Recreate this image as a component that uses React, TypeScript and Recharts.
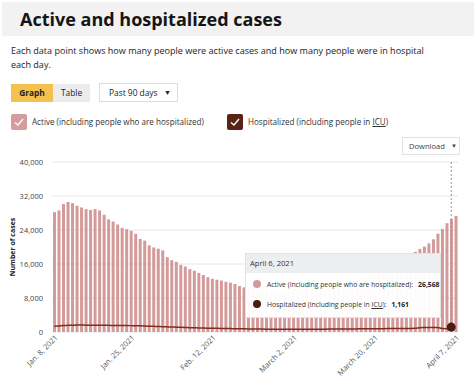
import { ComposedChart, Bar, Line, XAxis, YAxis, CartesianGrid, Tooltip } from "recharts";

const monthNames = ["Jan.", "Feb.", "March", "April"];

// 90 days, Jan 8 – April 7, 2021
const dates: string[] = [];
for (let i = 0; i < 90; i++) {
  const d = new Date(2021, 0, 8 + i);
  dates.push(`${monthNames[d.getMonth()]} ${d.getDate()}, ${d.getFullYear()}`);
}

const activeCases = [
  28200, 28600, 30100, 30600, 30300, 29700, 29300, 28900, 28700, 28900,
  28600, 27600, 26500, 26000, 25300, 24500, 24200, 23800, 23100, 21900,
  21500, 20400, 19900, 19600, 19200, 17600, 16900, 16500, 15800, 15400,
  14800, 14400, 13900, 13400, 12900, 12500, 12300, 12100, 11800, 11600,
  11300, 10800, 10500, 10400, 10200, 10050, 9900, 9820, 9700, 9740,
  9800, 9930, 10000, 10020, 10150, 10200, 10310, 10380, 10520, 10700,
  10780, 10900, 11050, 11200, 11380, 11620, 11900, 12150, 12500, 12880,
  13300, 13700, 14100, 14550, 14900, 15400, 15950, 16600, 17300, 18050,
  18850, 19550, 20100, 20850, 21800, 23150, 24250, 25600, 26568, 27300,
];

const hospitalized = [
  1380, 1430, 1510, 1560, 1600, 1620, 1640, 1615, 1600, 1590,
  1585, 1570, 1560, 1555, 1540, 1530, 1515, 1500, 1470, 1455,
  1420, 1380, 1330, 1300, 1250, 1220, 1175, 1140, 1100, 1060,
  1015, 990, 960, 925, 900, 880, 855, 840, 815, 800,
  775, 760, 745, 720, 700, 695, 680, 670, 665, 660,
  655, 650, 648, 652, 645, 650, 660, 662, 658, 670,
  676, 684, 690, 700, 698, 712, 720, 731, 740, 752,
  760, 770, 783, 790, 800, 812, 818, 832, 840, 850,
  865, 1000, 1045, 1060, 1058, 1050, 805, 790, 1161, null,
];

const xTicks = ["Jan. 8, 2021", "Jan. 25, 2021", "Feb. 12, 2021", "March 2, 2021", "March 20, 2021", "April 7, 2021"];
const yTicks = [0, 8000, 16000, 24000, 32000, 40000];

const chartData = dates.map((date, i) => ({
  date,
  active: activeCases[i],
  hospitalized: hospitalized[i],
}));

const PINK = "#d39a99";
const BROWN = "#7d2c1d";
const DARK = "#4a1d12";

function XTick({ x, y, payload }: any) {
  return (
    <g transform={`translate(${x + 2},${y})`}>
      <text x={0} y={0} dy={3} textAnchor="end" transform="rotate(-45)" fontSize={7.5} fill="#555" fontFamily='"Open Sans", sans-serif'>
        {payload.value}
      </text>
    </g>
  );
}

function TipBox({ payload, label }: any) {
  if (!payload || !payload.length) return null;
  const act = payload.find((p: any) => p.dataKey === "active");
  const hos = payload.find((p: any) => p.dataKey === "hospitalized");
  const row = { display: "flex", alignItems: "center", height: 20, paddingLeft: 7, fontSize: 6.8, color: "#333", whiteSpace: "nowrap" } as const;
  const dot = (c: string) => ({ width: 8, height: 8, borderRadius: 4, background: c, marginRight: 6, flex: "none" });
  return (
    <div style={{ width: 196, height: 65, background: "rgba(255,255,255,0.96)", border: "1px solid #e3e3e3", boxSizing: "border-box", fontFamily: '"Open Sans", sans-serif' }}>
      <div style={{ height: 19, background: "#eceef0", fontSize: 7.6, lineHeight: "19px", paddingLeft: 4, color: "#333" }}>{label}</div>
      <div style={{ ...row, marginTop: 1 }}>
        <span style={dot("#d39a9b")} />
        <span>Active (including people who are hospitalized):</span>
        <b style={{ marginLeft: 5, color: "#222" }}>{act ? act.value.toLocaleString("en-US") : ""}</b>
      </div>
      <div style={row}>
        <span style={dot(DARK)} />
        <span>
          Hospitalized (including people in <span style={{ textDecoration: "underline" }}>ICU</span>):
        </span>
        <b style={{ marginLeft: 5, color: "#222" }}>{hos ? hos.value.toLocaleString("en-US") : ""}</b>
      </div>
    </div>
  );
}

function Check({ color }: { color: string }) {
  return (
    <svg width={16} height={16} style={{ display: "block" }}>
      <rect x={0} y={0} width={16} height={16} rx={2} fill={color} />
      <path d="M4 8.5 L7 11 L12 5" stroke="#fff" strokeWidth={1.3} fill="none" />
    </svg>
  );
}

export default function App() {
  return (
    <div style={{ position: "absolute", left: 0, top: 0, width: 474, height: 381, overflow: "hidden", background: "#fff", fontFamily: '"Open Sans", sans-serif', color: "#222" }}>
      <div style={{ position: "absolute", left: 2, top: 2, width: 472, height: 34, background: "#f2f2f2" }} />
      <div style={{ position: "absolute", left: 20, top: 7, fontSize: 18, lineHeight: "24px", fontWeight: 700, fontFamily: '"Open Sans", sans-serif', color: "#151515" }}>
        Active and hospitalized cases
      </div>
      <div style={{ position: "absolute", left: 11, top: 44, width: 434, fontSize: 9.05, lineHeight: "14px", color: "#222" }}>
        Each data point shows how many people were active cases and how many people were in hospital each day.
      </div>

      <div style={{ position: "absolute", left: 11, top: 84, width: 42, height: 18, background: "#f5c14e", fontSize: 8.4, fontWeight: 700, lineHeight: "18px", textAlign: "center" }}>Graph</div>
      <div style={{ position: "absolute", left: 53, top: 84, width: 37, height: 18, background: "#ececec", fontSize: 8.4, lineHeight: "18px", textAlign: "center" }}>Table</div>
      <div style={{ position: "absolute", left: 99, top: 83, width: 79, height: 19, border: "1px solid #ddd", boxSizing: "border-box", fontSize: 8.4, lineHeight: "17px", paddingLeft: 9 }}>
        Past 90 days
        <span style={{ position: "absolute", left: 64, top: 0, fontSize: 7 }}>▼</span>
      </div>

      <div style={{ position: "absolute", left: 11, top: 114 }}><Check color="#d49c9c" /></div>
      <div style={{ position: "absolute", left: 32, top: 116, fontSize: 8.1, lineHeight: "12px", color: "#333" }}>Active (including people who are hospitalized)</div>
      <div style={{ position: "absolute", left: 227, top: 114 }}><Check color="#5a2415" /></div>
      <div style={{ position: "absolute", left: 248, top: 116, fontSize: 8.1, lineHeight: "12px", color: "#333" }}>
        Hospitalized (including people in <span style={{ textDecoration: "underline" }}>ICU</span>)
      </div>

      <div style={{ position: "absolute", left: 402, top: 137, width: 58, height: 18, border: "1px solid #e2e2e2", boxSizing: "border-box", fontSize: 7.6, lineHeight: "16px", paddingLeft: 6, color: "#444" }}>
        Download
        <span style={{ position: "absolute", left: 48, top: 0, fontSize: 6 }}>▼</span>
      </div>

      <div style={{ position: "absolute", left: 0, top: 140 }}>
        <ComposedChart width={474} height={241} data={chartData} margin={{ top: 22, right: 16, bottom: 0, left: 0 }} barCategoryGap="22%">
          <CartesianGrid vertical={false} stroke="#e6e6e6" />
          <XAxis dataKey="date" ticks={xTicks} interval={0} tick={<XTick />} tickLine={false} axisLine={false} tickSize={0} tickMargin={4} height={49} />
          <YAxis
            width={52}
            domain={[0, 40000]}
            ticks={yTicks}
            tickFormatter={(v: number) => v.toLocaleString("en-US")}
            tick={{ fontSize: 7.5, fill: "#444", fontFamily: '"Open Sans", sans-serif' }}
            tickLine={false}
            axisLine={false}
            tickMargin={3}
            label={{
              content: ({ viewBox }: any) => (
                <text x={0} y={0} transform={`translate(${viewBox.x + 15},${viewBox.y + viewBox.height / 2}) rotate(-90)`} textAnchor="middle" fontSize={7} fontWeight={700} fill="#222" fontFamily='"Open Sans", sans-serif'>
                  Number of cases
                </text>
              ),
            }}
          />
          <Tooltip
            active
            defaultIndex={88}
            position={{ x: 245, y: 113 }}
            content={<TipBox />}
            cursor={{ stroke: "#999", strokeDasharray: "2 2", strokeWidth: 1 }}
            isAnimationActive={false}
          />
          <Bar dataKey="active" fill={PINK} isAnimationActive={false} />
          <Line dataKey="hospitalized" type="monotone" stroke={BROWN} strokeWidth={1.5} dot={false} activeDot={{ r: 4.5, fill: DARK, stroke: "none" }} isAnimationActive={false} />
        </ComposedChart>
      </div>
    </div>
  );
}
